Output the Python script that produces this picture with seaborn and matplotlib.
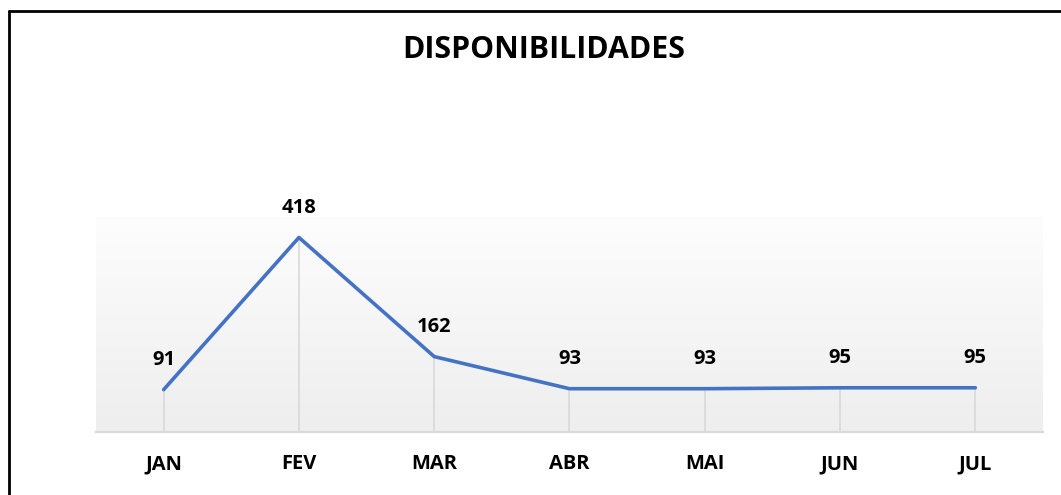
import numpy as np
import pandas as pd
import seaborn as sns
import matplotlib.pyplot as plt
from matplotlib.lines import Line2D

# dados do gráfico
meses = ["JAN", "FEV", "MAR", "ABR", "MAI", "JUN", "JUL"]
valores = [91, 418, 162, 93, 93, 95, 95]
titulo = "DISPONIBILIDADES"

df = pd.DataFrame({"mes": meses, "valor": valores})

sns.set_theme(style="white")
plt.rcParams["font.family"] = ["Open Sans", "DejaVu Sans"]

fig = plt.figure(figsize=(10.61, 4.95), dpi=100)
ax = fig.add_axes([0.0905, 0.1273, 0.8925, 0.4343])

# fundo em degradê (branco em cima, cinza claro embaixo)
grad = np.linspace(0, 1, 256).reshape(-1, 1)
ax.imshow(grad, cmap=plt.matplotlib.colors.LinearSegmentedColormap.from_list(
    "g", ["#fdfdfd", "#eeeeee"]), aspect="auto", extent=[0, 1, 0, 1],
    transform=ax.transAxes, zorder=0)

x = np.arange(len(meses))
ax.vlines(x, 0, valores, color="#d9d9d9", lw=1.2, zorder=1)
sns.lineplot(data=df, x=x, y="valor", ax=ax, color="#4472C4", lw=2.6, zorder=3)

for xi, v in zip(x, valores):
    ax.annotate(str(v), (xi, v), xytext=(0, 14), textcoords="offset points",
                ha="center", va="bottom", fontsize=14.5, fontweight="bold", color="black")

ax.set_xlim(-0.5, len(meses) - 0.5)
ax.set_ylim(0, 462)
ax.set_xticks(x)
ax.set_xticklabels(meses, fontsize=14.5, fontweight="bold", color="black")
ax.set_yticks([])
ax.set_xlabel("")
ax.set_ylabel("")
ax.tick_params(axis="x", length=0, pad=16)
for s in ["top", "right", "left"]:
    ax.spines[s].set_visible(False)
ax.spines["bottom"].set_color("#d9d9d9")
ax.spines["bottom"].set_linewidth(1.5)

fig.text(0.5127, 0.899, titulo, ha="center", va="center", fontsize=21.8,
         fontweight="bold", color="black")

# moldura do gráfico
fig.add_artist(Line2D([9 / 1061, 9 / 1061], [0, 1 - 11 / 495], color="black", lw=2,
                      transform=fig.transFigure))
fig.add_artist(Line2D([9 / 1061, 1], [1 - 11 / 495, 1 - 11 / 495], color="black", lw=2,
                      transform=fig.transFigure))

fig.savefig("out.png", dpi=100)
